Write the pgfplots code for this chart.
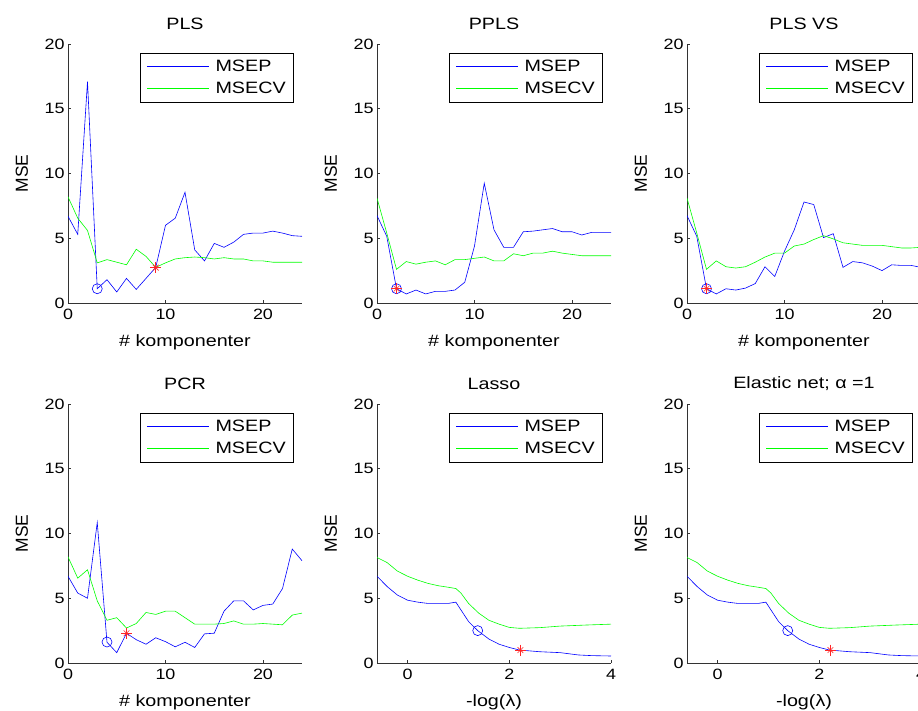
\documentclass[border=0pt]{standalone}
\usepackage{fontspec}
\setmainfont{Liberation Sans}[FakeStretch=1.2]
\newfontfamily\yfont{Liberation Sans}
\usepackage{pgfplots}
\pgfplotsset{compat=1.18}
\definecolor{mblue}{rgb}{0,0,1}
\definecolor{mgreen}{rgb}{0,1,0}
\definecolor{mred}{rgb}{1,0.15,0.15}
\pgfplotsset{
 mstyle/.style={
  scale only axis, width=234bp, height=259bp,
  axis x line=bottom, axis y line=left,
  axis line style={-, black!80, line width=0.6bp},
  tick align=inside, major tick length=3bp,
  tick style={black!80, line width=0.6bp},
  ymin=0, ymax=20, ytick={0,5,10,15,20},
  /pgf/number format/assume math mode=true,
  ticklabel style={font=\fontsize{15}{17}\selectfont},
  xticklabel style={yshift=-3bp},
  every axis title shift=0pt,
  title style={at={(axis description cs:0.5,1.077)}, anchor=center, font=\fontsize{16.5}{19}\selectfont},
  xlabel style={at={(axis description cs:0.5,-0.153)}, anchor=center, font=\fontsize{16.5}{19}\selectfont},
  ylabel style={at={(axis description cs:-0.197,0.5)}, anchor=center, font=\yfont\fontsize{17.5}{20}\selectfont},
  ylabel={MSE},
  legend style={at={(axis description cs:1,1)}, anchor=north east, xshift=-8bp, yshift=-9bp,
    draw=black, fill=white, font=\fontsize{16.5}{19}\selectfont,
    inner xsep=6bp, inner ysep=5bp, row sep=5bp, column sep=4bp, line width=0.6bp},
  legend cell align=left,
  legend image code/.code={\draw[#1, line width=0.9bp] (0bp,0bp) -- (62bp,0bp);},
  every axis plot/.append style={line width=0.6bp},
 },
 component/.style={xmin=0, xmax=24, xtick={0,10,20}, xlabel={\# komponenter}},
 lambda/.style={xmin=-0.6, xmax=4, xtick={0,2,4}, xlabel={-log(λ)}},
 blueline/.style={color=mblue, no marks, line width=0.6bp},
 greenline/.style={color=mgreen, no marks, line width=0.6bp},
 circ/.style={color=mblue, only marks, mark=o, mark size=5bp, forget plot, mark options={line width=0.6bp}},
 starp/.style={color=mred, only marks, mark=+, mark size=5.5bp, forget plot, mark options={line width=0.6bp}},
 starx/.style={color=mred, only marks, mark=x, mark size=4bp, forget plot, mark options={line width=0.6bp}},
}
\begin{document}
\begin{tikzpicture}
\path[use as bounding box] (0,0) rectangle (918bp,711bp);

% ---------- PLS ----------
\begin{axis}[mstyle, component, at={(68bp,408bp)}, anchor=south west, title={PLS}]
\addplot[blueline] coordinates {(0,6.7)(1,5.3)(2,17.1)(3,1.1)(4,1.8)(5,0.85)(6,1.9)(7,1.05)(8,1.9)(9,2.75)(10,6.0)(11,6.55)(12,8.55)(13,4.1)(14,3.25)(15,4.6)(16,4.3)(17,4.7)(18,5.3)(19,5.4)(20,5.4)(21,5.55)(22,5.4)(23,5.2)(24,5.15)};
\addlegendentry{MSEP}
\addplot[greenline] coordinates {(0,8.2)(1,6.55)(2,5.6)(3,3.1)(4,3.35)(5,3.15)(6,2.95)(7,4.15)(8,3.6)(9,2.75)(10,3.1)(11,3.4)(12,3.5)(13,3.55)(14,3.5)(15,3.4)(16,3.5)(17,3.4)(18,3.4)(19,3.25)(20,3.25)(21,3.15)(22,3.15)(23,3.15)(24,3.15)};
\addlegendentry{MSECV}
\addplot[circ] coordinates {(3,1.1)};
\addplot[starp] coordinates {(9,2.73)};
\addplot[starx] coordinates {(9,2.73)};
\end{axis}

% ---------- PPLS ----------
\begin{axis}[mstyle, component, at={(377bp,408bp)}, anchor=south west, title={PPLS}]
\addplot[blueline] coordinates {(0,6.75)(1,5.15)(2,1.1)(3,0.7)(4,1.0)(5,0.7)(6,0.9)(7,0.9)(8,1.0)(9,1.6)(10,4.4)(11,9.25)(12,5.65)(13,4.3)(14,4.3)(15,5.5)(16,5.55)(17,5.65)(18,5.75)(19,5.5)(20,5.5)(21,5.25)(22,5.45)(23,5.45)(24,5.45)};
\addlegendentry{MSEP}
\addplot[greenline] coordinates {(0,8.1)(1,5.4)(2,2.6)(3,3.2)(4,3.0)(5,3.15)(6,3.25)(7,2.95)(8,3.35)(9,3.35)(10,3.45)(11,3.55)(12,3.25)(13,3.25)(14,3.8)(15,3.65)(16,3.85)(17,3.85)(18,4.0)(19,3.85)(20,3.75)(21,3.65)(22,3.65)(23,3.65)(24,3.65)};
\addlegendentry{MSECV}
\addplot[circ] coordinates {(2,1.1)};
\addplot[starp] coordinates {(2,1.1)};
\addplot[starx] coordinates {(2,1.1)};
\end{axis}

% ---------- PLS VS ----------
\begin{axis}[mstyle, component, at={(687bp,408bp)}, anchor=south west, title={PLS VS}]
\addplot[blueline] coordinates {(0,6.75)(1,5.15)(2,1.1)(3,0.7)(4,1.1)(5,1.0)(6,1.15)(7,1.5)(8,2.8)(9,2.05)(10,4.0)(11,5.65)(12,7.8)(13,7.6)(14,5.05)(15,5.35)(16,2.75)(17,3.2)(18,3.1)(19,2.85)(20,2.5)(21,2.95)(22,2.9)(23,2.9)(24,2.75)};
\addlegendentry{MSEP}
\addplot[greenline] coordinates {(0,8.1)(1,5.4)(2,2.6)(3,3.25)(4,2.8)(5,2.7)(6,2.8)(7,3.15)(8,3.55)(9,3.85)(10,3.85)(11,4.4)(12,4.55)(13,4.9)(14,5.2)(15,4.95)(16,4.65)(17,4.55)(18,4.45)(19,4.45)(20,4.45)(21,4.35)(22,4.25)(23,4.25)(24,4.3)};
\addlegendentry{MSECV}
\addplot[circ] coordinates {(2,1.1)};
\addplot[starp] coordinates {(2,1.1)};
\addplot[starx] coordinates {(2,1.1)};
\end{axis}

% ---------- PCR ----------
\begin{axis}[mstyle, component, at={(68bp,48bp)}, anchor=south west, title={PCR}]
\addplot[blueline] coordinates {(0,6.7)(1,5.4)(2,5.0)(3,10.85)(4,1.6)(5,0.8)(6,2.3)(7,1.8)(8,1.45)(9,1.95)(10,1.65)(11,1.25)(12,1.6)(13,1.2)(14,2.25)(15,2.3)(16,4.0)(17,4.8)(18,4.8)(19,4.1)(20,4.45)(21,4.55)(22,5.75)(23,8.8)(24,7.9)};
\addlegendentry{MSEP}
\addplot[greenline] coordinates {(0,8.2)(1,6.55)(2,7.2)(3,4.8)(4,3.3)(5,3.5)(6,2.7)(7,3.05)(8,3.9)(9,3.75)(10,4.0)(11,4.0)(12,3.5)(13,3.0)(14,3.0)(15,3.0)(16,3.05)(17,3.25)(18,3.0)(19,3.0)(20,3.05)(21,3.0)(22,2.95)(23,3.7)(24,3.85)};
\addlegendentry{MSECV}
\addplot[circ] coordinates {(4,1.62)};
\addplot[starp] coordinates {(6,2.3)};
\addplot[starx] coordinates {(6,2.3)};
\end{axis}

% ---------- Lasso ----------
\begin{axis}[mstyle, lambda, at={(377bp,48bp)}, anchor=south west, title={Lasso}]
\addplot[blueline] coordinates {(-0.6,6.7)(-0.4,5.9)(-0.2,5.25)(0,4.85)(0.2,4.7)(0.4,4.6)(0.6,4.6)(0.8,4.6)(0.95,4.7)(1.05,4.1)(1.2,3.2)(1.38,2.5)(1.6,1.85)(1.8,1.45)(2.0,1.2)(2.2,1.0)(2.6,0.87)(3.0,0.8)(3.36,0.62)(3.62,0.57)(4.0,0.54)};
\addlegendentry{MSEP}
\addplot[greenline] coordinates {(-0.6,8.15)(-0.4,7.75)(-0.2,7.1)(0,6.7)(0.2,6.4)(0.4,6.15)(0.6,5.97)(0.8,5.85)(0.95,5.75)(1.05,5.4)(1.2,4.6)(1.4,3.85)(1.6,3.3)(1.8,3.0)(2.0,2.75)(2.2,2.68)(2.6,2.73)(3.0,2.85)(3.5,2.93)(4.0,3.0)};
\addlegendentry{MSECV}
\addplot[circ] coordinates {(1.38,2.5)};
\addplot[starp] coordinates {(2.22,1.0)};
\addplot[starx] coordinates {(2.22,1.0)};
\end{axis}

% ---------- Elastic net ----------
\begin{axis}[mstyle, lambda, at={(687bp,48bp)}, anchor=south west, title={Elastic net; α =1}]
\addplot[blueline] coordinates {(-0.6,6.7)(-0.4,5.9)(-0.2,5.25)(0,4.85)(0.2,4.7)(0.4,4.6)(0.6,4.6)(0.8,4.6)(0.95,4.7)(1.05,4.1)(1.2,3.2)(1.38,2.5)(1.6,1.85)(1.8,1.45)(2.0,1.2)(2.2,1.0)(2.6,0.87)(3.0,0.8)(3.36,0.62)(3.62,0.57)(4.0,0.54)};
\addlegendentry{MSEP}
\addplot[greenline] coordinates {(-0.6,8.15)(-0.4,7.75)(-0.2,7.1)(0,6.7)(0.2,6.4)(0.4,6.15)(0.6,5.97)(0.8,5.85)(0.95,5.75)(1.05,5.4)(1.2,4.6)(1.4,3.85)(1.6,3.3)(1.8,3.0)(2.0,2.75)(2.2,2.68)(2.6,2.73)(3.0,2.85)(3.5,2.93)(4.0,3.0)};
\addlegendentry{MSECV}
\addplot[circ] coordinates {(1.38,2.5)};
\addplot[starp] coordinates {(2.22,1.0)};
\addplot[starx] coordinates {(2.22,1.0)};
\end{axis}
\end{tikzpicture}
\end{document}
